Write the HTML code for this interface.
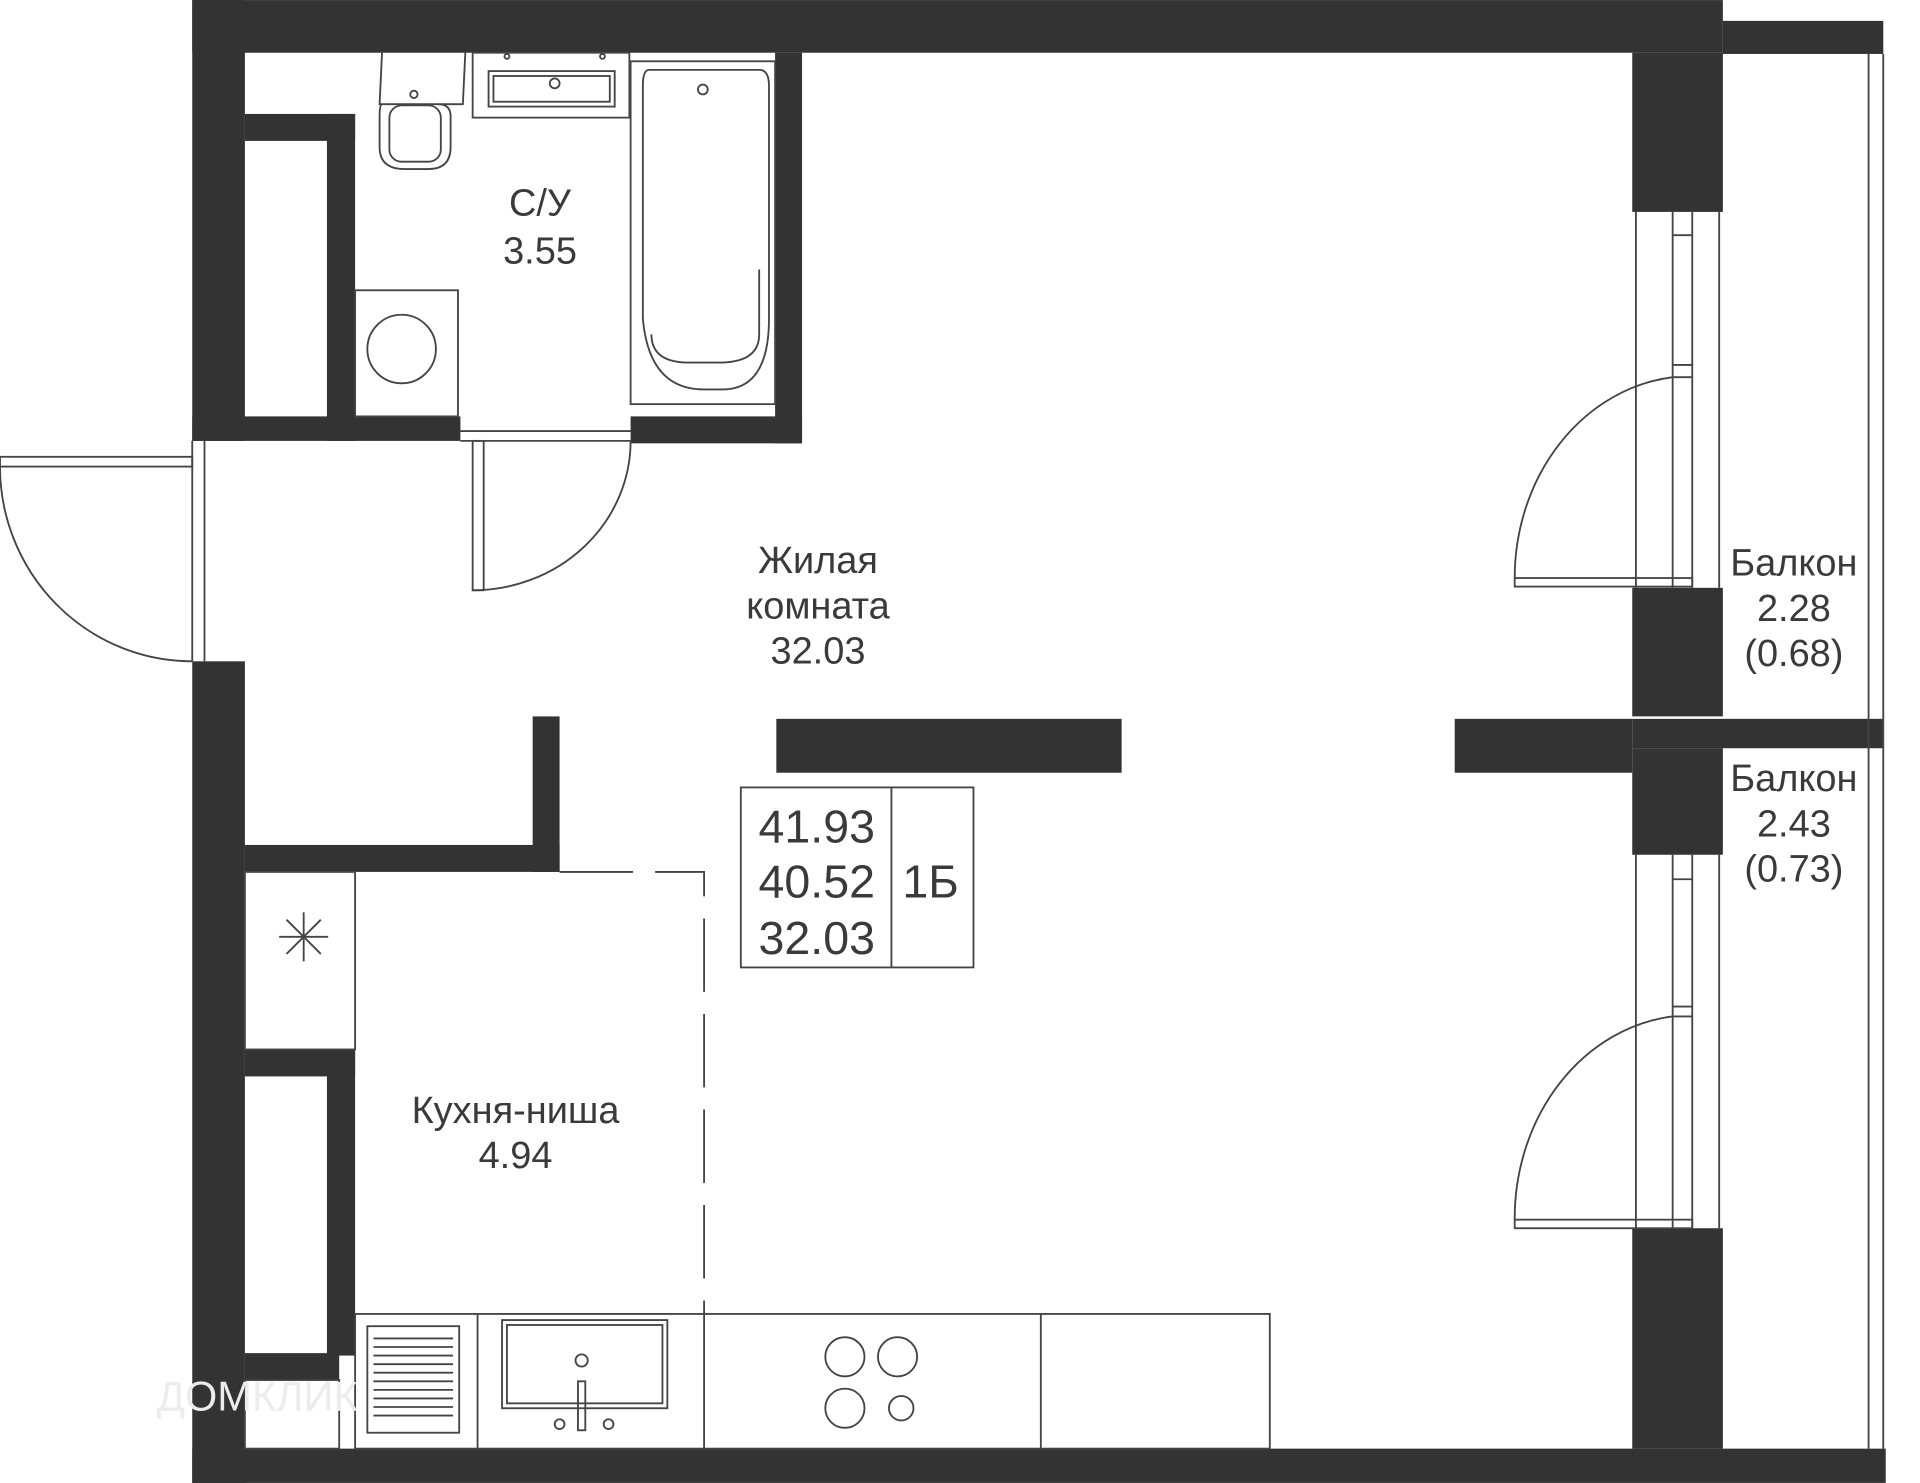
<!DOCTYPE html>
<html><head><meta charset="utf-8"><style>
html,body{margin:0;padding:0;background:#fff}
svg{display:block}
text{font-family:"Liberation Sans",sans-serif;fill:#3a3a3a}
</style></head><body>
<svg width="1920" height="1483" viewBox="0 0 1568 1211" xmlns="http://www.w3.org/2000/svg">
<g fill="#333">
<rect x="157" y="0" width="1250" height="43"/>
<rect x="1407" y="17" width="131" height="27"/>
<rect x="157" y="0" width="43" height="360"/>
<rect x="200" y="93" width="90" height="22"/>
<rect x="267" y="93" width="23" height="267"/>
<rect x="157" y="340" width="219" height="20"/>
<rect x="633" y="43" width="22" height="319"/>
<rect x="515" y="340" width="140" height="22"/>
<rect x="157" y="540" width="43" height="671"/>
<rect x="200" y="690" width="257" height="22"/>
<rect x="435" y="585" width="22" height="127"/>
<rect x="200" y="857" width="90" height="22"/>
<rect x="267" y="857" width="23" height="250"/>
<rect x="200" y="1105" width="77" height="22"/>
<rect x="157" y="1183" width="1383" height="28"/>
<rect x="1333" y="43" width="74" height="130"/>
<rect x="1333" y="480" width="74" height="105"/>
<rect x="1188" y="587" width="145" height="44"/>
<rect x="1333" y="587" width="205" height="24"/>
<rect x="1333" y="611" width="74" height="87"/>
<rect x="1333" y="1003" width="74" height="180"/>
<rect x="634" y="587" width="282" height="44"/>
</g>
<g fill="none" stroke="#444" stroke-width="1.5">
<line x1="1526" y1="44" x2="1526" y2="1183"/><line x1="1538" y1="44" x2="1538" y2="1183"/>
<line x1="1336" y1="173" x2="1336" y2="480"/><line x1="1366" y1="173" x2="1366" y2="480"/><line x1="1382" y1="173" x2="1382" y2="480"/><line x1="1404" y1="173" x2="1404" y2="480"/>
<line x1="1366" y1="192" x2="1382" y2="192"/><line x1="1366" y1="298" x2="1382" y2="298"/><line x1="1366" y1="308" x2="1382" y2="308"/>
<line x1="1336" y1="698" x2="1336" y2="1003"/><line x1="1366" y1="698" x2="1366" y2="1003"/><line x1="1382" y1="698" x2="1382" y2="1003"/><line x1="1404" y1="698" x2="1404" y2="1003"/>
<line x1="1366" y1="718" x2="1382" y2="718"/><line x1="1366" y1="822" x2="1382" y2="822"/><line x1="1366" y1="830" x2="1382" y2="830"/>
<rect x="1237" y="472" width="145" height="7"/>
<path d="M1237 472 A145 165 0 0 1 1366 308"/>
<rect x="1237" y="996" width="145" height="7"/>
<path d="M1237 996 A145 166 0 0 1 1366 830"/>
<line x1="157" y1="360" x2="157" y2="540"/><line x1="167" y1="360" x2="167" y2="540"/>
<rect x="0" y="373" width="157" height="8"/>
<path d="M0 381 A157 159 0 0 0 157 540"/>
<line x1="376" y1="352" x2="515" y2="352"/><line x1="376" y1="360" x2="515" y2="360"/>
<rect x="386" y="360" width="9" height="122"/>
<path d="M386 482 A129 122 0 0 0 515 360"/>
<path d="M380 43 L378 85 L310 85 L312 43"/>
<path d="M312 85 Q310 85 310 95 L310 120 Q310 138 330 138 L350 138 Q368 138 368 120 L368 95 Q368 85 358 85"/>
<rect x="318" y="86" width="42" height="46" rx="10"/>
<circle cx="338" cy="77" r="3"/>
<circle cx="414" cy="46" r="2"/><circle cx="492" cy="46" r="2"/>
<rect x="386" y="43" width="128" height="53"/>
<rect x="399" y="58" width="103" height="29"/><rect x="403" y="62" width="95" height="21"/>
<circle cx="453" cy="68" r="4"/>
<rect x="515" y="50" width="118" height="280"/>
<path d="M530 57 Q525 57 525 70 L525 260 Q530 318 575 318 L590 318 Q628 318 628 260 L628 70 Q628 57 620 57 Z"/>
<path d="M532 273 Q532 295 560 296 L590 296 Q620 295 620 273 L620 220"/>
<circle cx="574" cy="73" r="4"/>
<rect x="290" y="237" width="84" height="103"/>
<circle cx="328" cy="285" r="28"/>
<rect x="200" y="712" width="90" height="145"/>
<line x1="228" y1="765" x2="268" y2="765"/><line x1="248" y1="745" x2="248" y2="785"/><line x1="234" y1="751" x2="262" y2="779"/><line x1="262" y1="751" x2="234" y2="779"/>
<rect x="200" y="1127" width="77" height="56"/>
<path d="M457 712 L575 712 L575 1073" stroke-dasharray="60 18"/>
<rect x="290" y="1073" width="747" height="110"/>
<line x1="390" y1="1073" x2="390" y2="1183"/><line x1="575" y1="1073" x2="575" y2="1183"/><line x1="850" y1="1073" x2="850" y2="1183"/>
<rect x="300" y="1083" width="75" height="87"/>
<path d="M305 1093 H370 M305 1100 H370 M305 1107 H370 M305 1114 H370 M305 1121 H370 M305 1128 H370 M305 1135 H370 M305 1142 H370 M305 1149 H370 M305 1156 H370"/>
<rect x="410" y="1078" width="135" height="72"/><rect x="414" y="1082" width="127" height="64"/>
<circle cx="475" cy="1111" r="5"/><rect x="472" y="1128" width="6" height="40"/>
<circle cx="457" cy="1163" r="4"/><circle cx="497" cy="1163" r="4"/>
<circle cx="690" cy="1108" r="16"/><circle cx="733" cy="1108" r="16"/><circle cx="690" cy="1150" r="16"/><circle cx="736" cy="1150" r="10"/>
<rect x="605" y="643" width="190" height="147"/><line x1="728" y1="643" x2="728" y2="790"/>
</g>
<g font-size="31" text-anchor="middle">
<text x="441" y="176">С/У</text><text x="441" y="215">3.55</text>
<text x="668" y="468">Жилая</text><text x="668" y="505">комната</text><text x="668" y="542">32.03</text>
<text x="421" y="917">Кухня-ниша</text><text x="421" y="954">4.94</text>
<text x="1465" y="470">Балкон</text><text x="1465" y="507">2.28</text><text x="1465" y="544">(0.68)</text>
<text x="1465" y="646">Балкон</text><text x="1465" y="683">2.43</text><text x="1465" y="720">(0.73)</text>
</g>
<g font-size="38" text-anchor="middle">
<text x="667" y="688">41.93</text><text x="667" y="733">40.52</text><text x="667" y="779">32.03</text>
<text x="760" y="733">1Б</text>
</g>
<text x="128" y="1152" font-size="34" style="fill:#ececec">ДОМКЛИК</text>
</svg>
</body></html>
